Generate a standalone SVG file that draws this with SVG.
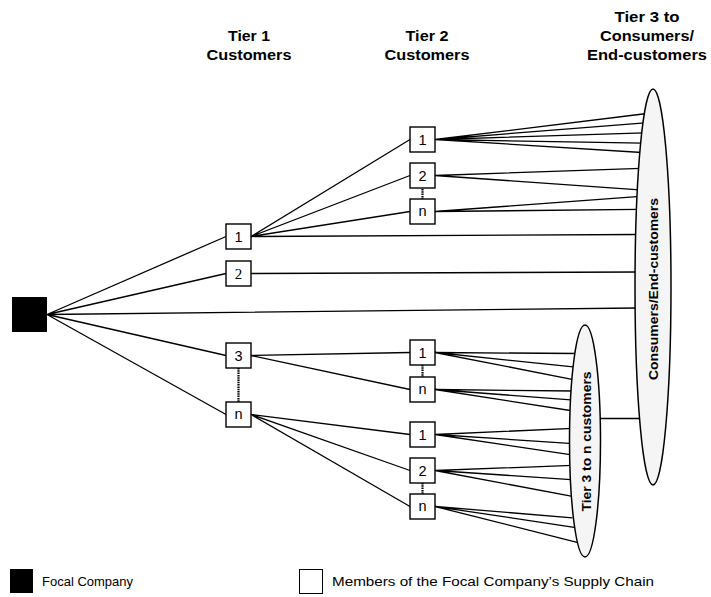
<svg xmlns="http://www.w3.org/2000/svg" width="711" height="597" viewBox="0 0 711 597">
<style>
.ln{stroke:#000;stroke-width:1.3;fill:none}
.dot{stroke:#000;stroke-width:2.2;stroke-dasharray:1.5 0.8;fill:none}
.box{fill:#fff;stroke:#000;stroke-width:1.4}
.lbl{font-family:"Liberation Sans",Arial,sans-serif;font-size:14.5px;text-anchor:middle;fill:#000}
.ser{font-family:"Liberation Serif","Times New Roman",serif;font-size:15px;text-anchor:middle;fill:#000}
.hdr{font-family:"Liberation Sans",Arial,sans-serif;font-size:15px;font-weight:bold;text-anchor:middle;fill:#000}
.ell{fill:#f5f5f5;stroke:#000;stroke-width:1.5}
.etx{font-family:"Liberation Sans",Arial,sans-serif;font-size:13.5px;font-weight:bold;text-anchor:middle;fill:#000}
.leg{font-family:"Liberation Sans",Arial,sans-serif;font-size:13px;fill:#000}
</style>
<rect width="711" height="597" fill="#fff"/>
<g id="headers">
<text class="hdr" x="249" y="41" textLength="42" lengthAdjust="spacingAndGlyphs">Tier 1</text>
<text class="hdr" x="249" y="59.5" textLength="85" lengthAdjust="spacingAndGlyphs">Customers</text>
<text class="hdr" x="427" y="41" textLength="43" lengthAdjust="spacingAndGlyphs">Tier 2</text>
<text class="hdr" x="427" y="59.5" textLength="85" lengthAdjust="spacingAndGlyphs">Customers</text>
<text class="hdr" x="647" y="22" textLength="65" lengthAdjust="spacingAndGlyphs">Tier 3 to</text>
<text class="hdr" x="647" y="41" textLength="94" lengthAdjust="spacingAndGlyphs">Consumers/</text>
<text class="hdr" x="647" y="59.5" textLength="120" lengthAdjust="spacingAndGlyphs">End-customers</text>
</g>
<g id="connectors">
<path class="ln" d="M47,314.5L226,236.5M47,314.5L226,273.5M47,314.5L637,308M47,314.5L226,355.5M47,314.5L226,414.5"/>
<path class="ln" d="M251,236.5L410,139.5M251,236.5L410,175.5M251,236.5L410,211.5M251,236.5L638,234.5"/>
<path class="ln" d="M251,273.5L638,272"/>
<path class="ln" d="M251,355.5L410,352.5M251,355.5L410,389.5"/>
<path class="ln" d="M251,414.5L410,434.5M251,414.5L410,470.5M251,414.5L410,506.5"/>
<path class="ln" d="M435,139.5L647,113.5M435,139.5L645,122.8M435,139.5L644,132.8M435,139.5L643,143.2M435,139.5L642,152.5"/>
<path class="ln" d="M435,175.5L641,168.3M435,175.5L639.5,189.8"/>
<path class="ln" d="M435,211.5L637,196.7M435,211.5L639,209.4"/>
<path class="ln" d="M435,352.5L577.5,353.5M435,352.5L575.5,367.2M435,352.5L574.5,379.8"/>
<path class="ln" d="M435,389.5L574.5,391M435,389.5L574,400.2M435,389.5L573.5,411"/>
<path class="ln" d="M435,434.5L573,428.4M435,434.5L573,443.6M435,434.5L573.5,455.2"/>
<path class="ln" d="M435,470.5L572.5,465.4M435,470.5L571,479.6M435,470.5L572.5,496.4"/>
<path class="ln" d="M435,506.5L572.5,517.8M435,506.5L577.5,527.8M435,506.5L581,543.3"/>
<path class="ln" d="M600,418.5L640,418.5"/>
<path class="dot" d="M238.5,368L238.5,402"/>
<path class="dot" d="M422.5,189L422.5,199"/>
<path class="dot" d="M422.5,365L422.5,377"/>
<path class="dot" d="M422.5,483L422.5,494"/>
</g>
<g id="focal"><rect x="12" y="297" width="35" height="35" fill="#000"/></g>
<g id="t1-1"><rect class="box" x="226" y="224" width="25" height="25"/><text class="lbl" x="238.5" y="241.7">1</text></g>
<g id="t1-2"><rect class="box" x="226" y="261" width="25" height="25"/><text class="ser" x="238.5" y="278.5">2</text></g>
<g id="t1-3"><rect class="box" x="226" y="343" width="25" height="25"/><text class="lbl" x="238.5" y="360.7">3</text></g>
<g id="t1-n"><rect class="box" x="226" y="402" width="25" height="25"/><text class="lbl" x="238.5" y="419.2">n</text></g>
<g id="t2a-1"><rect class="box" x="410" y="127" width="25" height="25"/><text class="lbl" x="422.5" y="144.7">1</text></g>
<g id="t2a-2"><rect class="box" x="410" y="163" width="25" height="25"/><text class="lbl" x="422.5" y="180.7">2</text></g>
<g id="t2a-n"><rect class="box" x="410" y="199" width="25" height="25"/><text class="lbl" x="422.5" y="216.2">n</text></g>
<g id="t2b-1"><rect class="box" x="410" y="340" width="25" height="25"/><text class="lbl" x="422.5" y="357.7">1</text></g>
<g id="t2b-n"><rect class="box" x="410" y="377" width="25" height="25"/><text class="lbl" x="422.5" y="394.2">n</text></g>
<g id="t2c-1"><rect class="box" x="410" y="422" width="25" height="25"/><text class="lbl" x="422.5" y="439.7">1</text></g>
<g id="t2c-2"><rect class="box" x="410" y="458" width="25" height="25"/><text class="lbl" x="422.5" y="475.7">2</text></g>
<g id="t2c-n"><rect class="box" x="410" y="494" width="25" height="25"/><text class="lbl" x="422.5" y="511.2">n</text></g>
<g id="consumers"><ellipse class="ell" cx="653" cy="287" rx="18" ry="198"/><text class="etx" transform="translate(657.5,289) rotate(-90)" textLength="182" lengthAdjust="spacingAndGlyphs">Consumers/End-customers</text></g>
<g id="tier3n"><ellipse class="ell" cx="585" cy="441" rx="15.5" ry="116"/><text class="etx" transform="translate(590.5,441.5) rotate(-90)" textLength="140" lengthAdjust="spacingAndGlyphs">Tier 3 to n customers</text></g>
<g id="legend">
<rect x="10" y="569" width="23" height="24" fill="#000"/>
<text class="leg" x="42" y="586">Focal Company</text>
<rect x="299.5" y="569.5" width="23" height="24" fill="#fff" stroke="#000" stroke-width="1"/>
<text class="leg" x="332" y="586" textLength="322" lengthAdjust="spacingAndGlyphs">Members of the Focal Company’s Supply Chain</text>
</g>
</svg>
